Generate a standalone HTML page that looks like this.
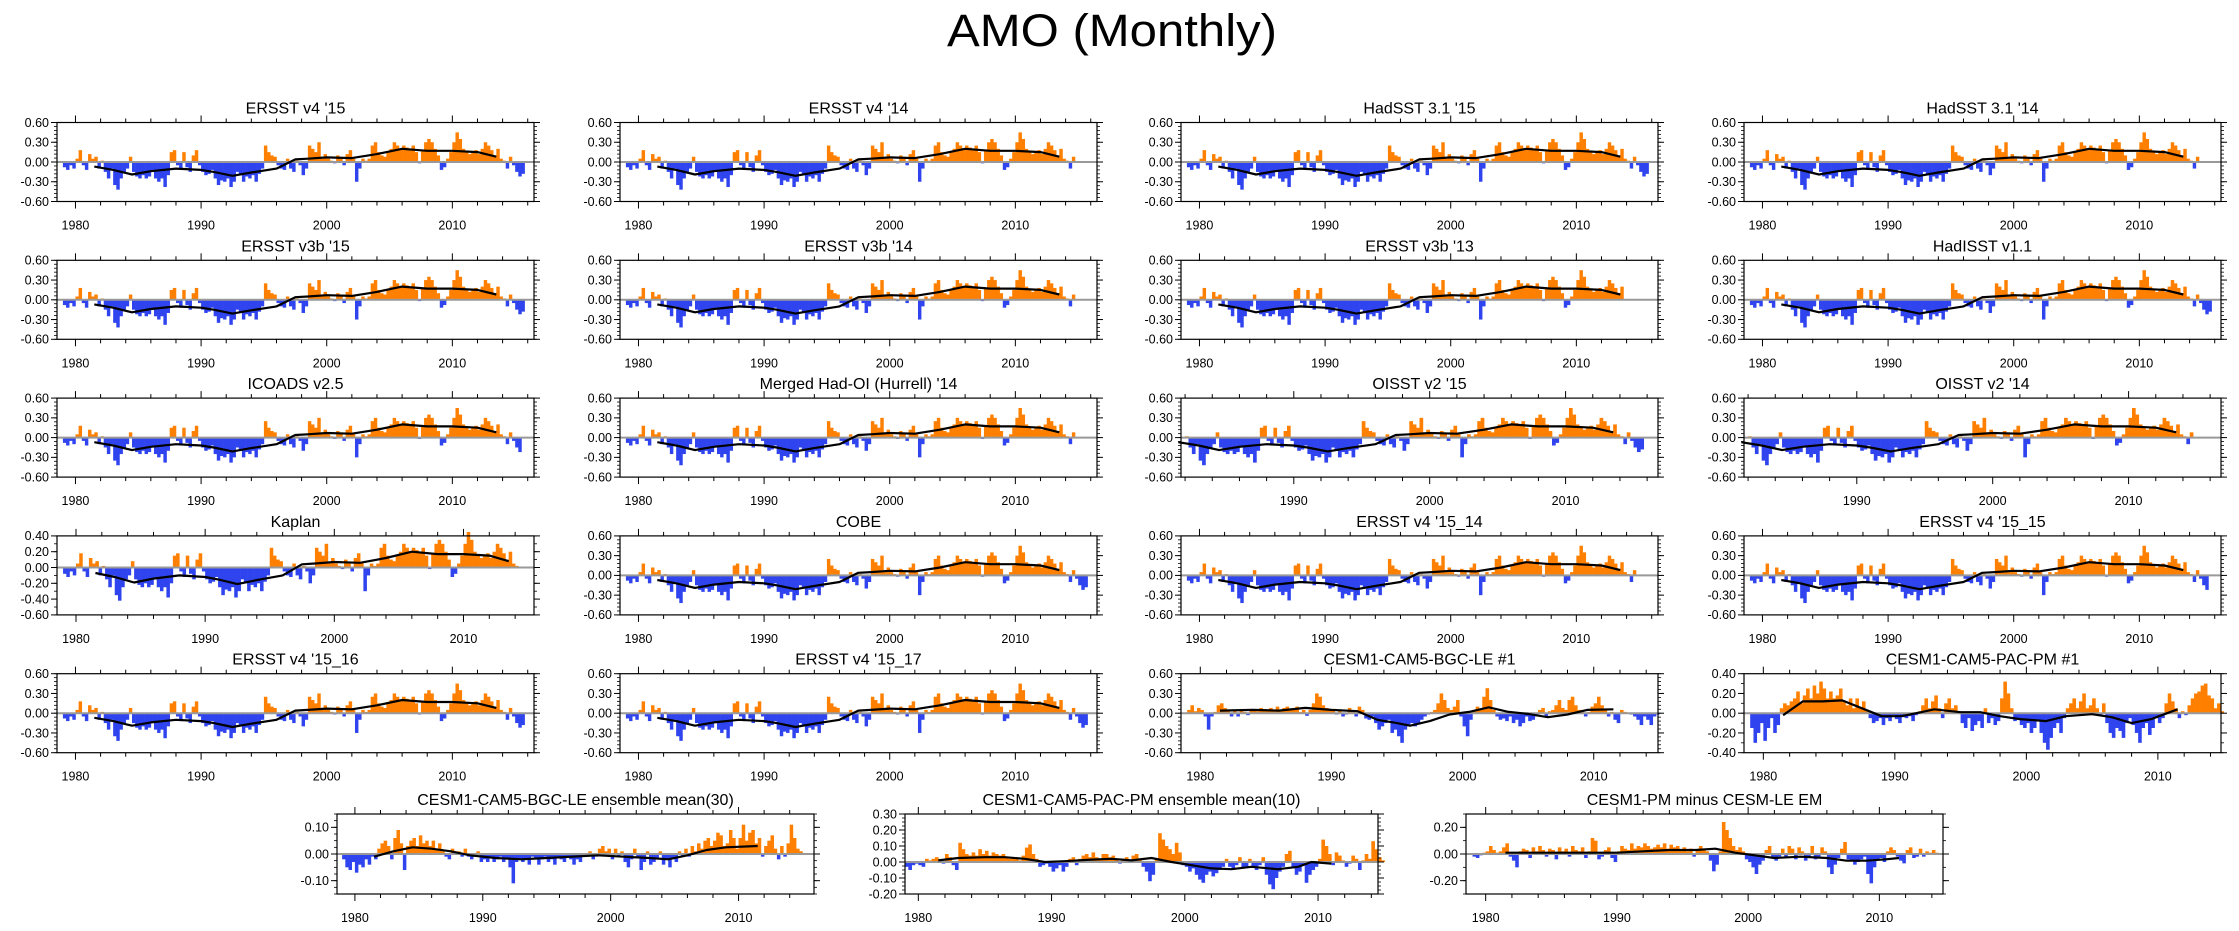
<!DOCTYPE html>
<html><head><meta charset="utf-8"><style>
html,body{margin:0;padding:0;background:#fff;}
svg{display:block;font-family:"Liberation Sans",Arial,sans-serif;}
</style></head><body>
<svg id="chart" width="2239" height="931" viewBox="0 0 2239 931" xmlns="http://www.w3.org/2000/svg">
<rect width="2239" height="931" fill="#fff"/>
<text x="1112" y="46" font-size="45" text-anchor="middle" textLength="330" lengthAdjust="spacingAndGlyphs">AMO (Monthly)</text>
</svg>
<script>
// ---- data (quarterly values, each drawn as 3 months), start year 1979 ----
const obsValues = [
-0.08,-0.12,-0.05,-0.10, 0.05,0.18,-0.05,-0.12, 0.12,0.05,0.08,-0.10, 0.02,-0.15,-0.25,-0.10,
-0.35,-0.42,-0.25,-0.15, -0.10,0.08,-0.15,-0.22, -0.25,-0.20,-0.25,-0.22, -0.15,-0.25,-0.30,-0.25,
-0.38,-0.20,0.15,0.18, -0.05,-0.12,0.15,-0.08, -0.15,0.10,0.18,-0.05, -0.15,-0.20,-0.18,-0.12,
-0.25,-0.35,-0.28,-0.30, -0.25,-0.38,-0.30,-0.15, -0.20,-0.30,-0.22,-0.25, -0.20,-0.30,-0.18,-0.10,
0.25,0.15,0.10,0.08, -0.05,-0.10,-0.12,0.05, -0.10,-0.15,0.02,-0.05, -0.20,-0.10,0.25,0.20,
0.15,0.30,0.05,0.12, 0.05,0.02,-0.02,0.10, 0.05,-0.05,0.12,0.18, 0.05,-0.30,-0.10,0.05,
0.02,0.05,0.25,0.30, 0.15,0.10,0.08,0.15, 0.20,0.30,0.25,0.20, 0.25,0.22,0.20,0.25,
0.15,-0.02,0.18,0.30, 0.35,0.30,0.20,0.10, -0.12,-0.08,0.05,0.15, 0.30,0.45,0.35,0.20,
0.15,0.12,0.15,0.18, 0.12,0.20,0.30,0.25, 0.18,0.10,0.20,0.05, 0.02,-0.10,0.08,-0.05,
-0.15,-0.22,-0.18,-0.08];
const obsSmoothYears = [1981.5,1983,1984.5,1986,1988,1990,1991,1992.5,1994,1996,1997.5,1998.5,2000,2002,2004,2006,2008,2010,2012,2013.5];
const obsSmoothValues = [-0.07,-0.12,-0.19,-0.14,-0.10,-0.12,-0.15,-0.21,-0.16,-0.10,0.04,0.05,0.07,0.06,0.12,0.20,0.17,0.17,0.15,0.08];

const bgcValues = [
0.05,0.12,0.03,0.08, 0.05,-0.05,-0.25,-0.05, 0.02,0.12,0.15,0.08, 0.03,-0.05,0.05,-0.05,
0.05,0.02,-0.03,0.05, 0.05,0.03,0.08,0.06, 0.05,0.08,0.05,0.10, 0.05,0.08,0.10,0.05,
0.06,0.10,0.02,0.05, -0.04,0.05,0.15,0.30, 0.25,0.12,0.08,0.05, 0.05,-0.02,0.03,-0.05,
-0.02,0.08,0.02,-0.05, 0.10,0.05,-0.08,-0.10, -0.05,-0.15,-0.25,-0.20, -0.15,-0.10,-0.30,-0.25,
-0.35,-0.45,-0.25,-0.20, -0.15,-0.20,-0.15,-0.10, -0.05,-0.02,0.02,0.05, 0.15,0.30,0.20,0.08,
0.05,0.10,0.20,-0.05, -0.20,-0.35,-0.10,0.05, 0.10,0.05,0.25,0.38, 0.20,0.05,-0.05,-0.10,
-0.08,-0.12,-0.05,-0.15, -0.10,-0.20,-0.15,-0.05, -0.12,-0.10,-0.05,0.05, 0.08,-0.05,0.03,0.05,
0.12,0.20,0.08,0.05, 0.20,0.25,0.12,0.05, 0.05,-0.05,0.02,0.10, 0.15,0.25,0.12,0.05,
-0.05,0.02,-0.10,-0.15, 0.05,0.02,0.00,-0.02, -0.05,-0.10,-0.18,-0.05, -0.10,-0.18,-0.05,-0.02];
const bgcSmoothYears = [1981.5,1984,1986,1988,1990,1992,1993.5,1995,1996,1997.5,1999,2000.5,2002,2003.5,2005,2006.5,2008,2009.5,2011.5];
const bgcSmoothValues = [0.04,0.05,0.04,0.08,0.05,0.03,-0.10,-0.15,-0.19,-0.12,-0.02,0.02,0.09,0.02,-0.01,-0.06,-0.02,0.05,0.06];

const pacValues = [
-0.15,-0.30,-0.20,-0.10, -0.28,-0.15,-0.05,-0.20, -0.12,0.05,0.10,0.08, 0.12,0.15,0.22,0.10,
0.18,0.25,0.15,0.28, 0.20,0.32,0.25,0.15, 0.22,0.15,0.18,0.25, 0.12,0.08,0.15,0.05,
0.15,0.05,0.12,0.02, -0.05,-0.10,-0.08,-0.05, -0.12,-0.05,-0.08,-0.02, -0.06,-0.10,-0.04,-0.05,
-0.03,-0.08,-0.02,0.02, 0.08,0.15,0.05,0.12, 0.18,0.05,-0.05,0.10, 0.15,0.05,0.08,0.02,
-0.10,-0.15,-0.05,-0.18, -0.12,-0.08,-0.15,0.05, -0.10,-0.05,-0.12,-0.08, 0.15,0.32,0.20,0.05,
-0.08,-0.05,-0.12,-0.15, -0.10,-0.20,-0.15,-0.08, -0.20,-0.30,-0.37,-0.25, -0.15,-0.10,-0.20,-0.05,
0.05,0.10,0.15,0.05, 0.12,0.20,0.05,0.08, 0.15,0.05,-0.02,0.10, -0.10,-0.20,-0.25,-0.15,
-0.18,-0.25,-0.10,-0.05, -0.12,-0.20,-0.30,-0.15, -0.10,-0.22,-0.15,-0.05, -0.10,-0.05,0.10,0.20,
0.12,0.05,-0.05,0.02, -0.02,0.08,0.15,0.20, 0.22,0.28,0.30,0.18, 0.15,0.05,0.10,0.02];
const pacSmoothYears = [1981.5,1983,1984.5,1986,1987.5,1989,1990.5,1992,1993,1995,1996.5,1998,1999.5,2001.5,2003,2005,2006.5,2008,2009.5,2011.5];
const pacSmoothValues = [-0.02,0.12,0.12,0.13,0.05,-0.03,-0.03,0.01,0.04,0.01,0.01,-0.03,-0.06,-0.08,-0.03,-0.01,-0.04,-0.10,-0.06,0.04];

const bgcEnsValues = [
-0.02,-0.05,-0.06,-0.03, -0.07,-0.04,-0.05,-0.02, -0.04,-0.01,-0.02,0.02, 0.04,0.05,0.03,-0.02,
0.06,0.09,0.04,-0.06, 0.03,0.05,0.06,0.03, 0.07,0.04,0.05,0.03, 0.05,0.02,0.04,0.01,
-0.01,-0.02,0.02,0.01, 0.01,-0.01,0.02,-0.01, -0.02,-0.01,0.01,-0.03, -0.02,-0.03,-0.01,-0.03,
-0.02,-0.01,-0.03,-0.02, -0.05,-0.11,-0.03,-0.02, -0.03,-0.02,-0.04,-0.01, -0.02,-0.04,-0.02,-0.01,
-0.03,-0.02,-0.04,-0.01, -0.02,-0.03,-0.01,-0.02, -0.04,-0.02,-0.03,-0.01, -0.01,0.01,-0.02,-0.01,
0.02,0.03,0.01,0.02, -0.02,0.02,-0.01,0.01, -0.03,-0.05,-0.02,0.02, -0.01,-0.06,-0.03,0.01,
-0.04,-0.03,-0.02,0.01, -0.04,-0.02,-0.05,-0.02, -0.03,0.01,-0.01,0.02, -0.01,0.03,0.01,0.04,
0.02,0.05,0.06,0.03, 0.05,0.08,0.07,0.03, 0.04,0.09,0.06,0.02, 0.06,0.11,0.05,0.08,
0.09,0.04,0.06,-0.01, 0.03,0.05,0.07,0.02, -0.02,0.03,-0.01,0.04, 0.11,0.06,0.02,0.01];
const bgcEnsSmoothYears = [1981.5,1983,1984.5,1986,1987.5,1989,1991,1993,1995,1997,1999,2001,2003,2004.5,2006,2007.5,2009,2011.5];
const bgcEnsSmoothValues = [-0.01,0.01,0.025,0.02,0.01,-0.005,-0.015,-0.02,-0.015,-0.01,-0.005,-0.01,-0.015,-0.02,-0.005,0.015,0.025,0.03];

const pacEnsValues = [
-0.03,-0.05,-0.02,-0.01, -0.02,-0.03,0.02,0.01, 0.02,0.03,0.01,-0.01, 0.05,0.03,-0.02,-0.05,
0.12,0.08,0.05,0.04, 0.06,0.04,0.08,0.05, 0.07,0.04,0.06,0.05, 0.04,0.05,0.03,0.02,
0.03,0.02,0.01,0.04, 0.09,0.11,0.05,0.02, -0.03,-0.02,-0.01,-0.03, -0.06,-0.04,-0.02,-0.06,
-0.03,0.02,0.03,-0.02, 0.02,0.04,0.05,0.03, 0.06,0.03,0.02,0.05, 0.05,0.03,0.04,0.02,
-0.01,0.02,0.03,0.01, 0.04,0.05,0.02,-0.03, -0.06,-0.12,-0.08,0.02, 0.18,0.14,0.10,0.08,
0.05,0.12,0.06,-0.02, -0.03,-0.06,-0.04,-0.08, -0.11,-0.13,-0.08,-0.06, -0.09,-0.07,-0.05,-0.03,
0.02,-0.03,-0.05,-0.02, 0.03,-0.04,-0.03,0.02, -0.03,-0.05,-0.02,0.03, -0.08,-0.14,-0.17,-0.10,
-0.06,-0.03,0.05,0.07, -0.04,-0.08,-0.06,-0.02, -0.13,-0.08,-0.05,-0.03, 0.02,0.14,0.10,0.05,
-0.02,0.06,0.04,0.01, -0.03,-0.01,0.04,0.02, -0.05,0.01,0.05,0.02, 0.13,0.08,0.03,0.01];
const pacEnsSmoothYears = [1981.5,1983,1985,1986.5,1988,1989.5,1991,1993,1994.5,1996,1997.5,1999,2000.5,2002,2003.5,2005,2007,2008.5,2009.5,2011];
const pacEnsSmoothValues = [0.01,0.025,0.03,0.03,0.02,0.0,0.005,0.015,0.02,0.01,0.025,0.0,-0.02,-0.04,-0.045,-0.03,-0.045,-0.03,0.0,-0.01];

const diffValues = [
-0.02,-0.03,-0.01,0.01, 0.02,0.06,0.03,0.01, 0.02,0.05,0.08,-0.02, -0.05,-0.10,0.02,0.04,
0.03,-0.03,0.05,0.02, 0.06,0.03,-0.02,0.04, 0.03,-0.04,0.05,0.02, 0.04,-0.02,0.06,0.03,
0.02,0.05,-0.03,0.02, 0.12,0.10,-0.04,-0.02, 0.03,0.05,-0.03,-0.06, 0.02,0.06,0.04,0.03,
0.08,0.04,0.06,0.05, 0.08,0.06,0.04,0.05, 0.07,0.05,0.08,0.04, 0.07,0.05,0.06,0.03,
0.05,0.02,0.04,-0.02, 0.03,0.06,0.04,0.02, -0.05,-0.13,-0.08,0.02, 0.24,0.18,0.12,0.06,
0.03,0.05,0.02,-0.04, -0.06,-0.10,-0.15,-0.08, -0.05,0.03,0.06,-0.03, -0.05,-0.02,0.04,-0.03,
0.06,0.04,-0.04,0.05, 0.02,-0.05,-0.03,0.06, -0.04,-0.02,0.05,0.02, -0.10,-0.15,-0.08,-0.03,
0.04,0.09,-0.04,-0.05, -0.08,-0.06,-0.04,-0.02, -0.15,-0.22,-0.10,-0.04, -0.03,-0.06,0.02,0.05,
0.03,-0.02,-0.05,-0.07, 0.03,0.05,-0.03,-0.02, 0.04,-0.02,0.02,0.01, 0.03,0.01,0.00,0.00];
const diffSmoothYears = [1981.5,1984,1987,1990,1992,1994,1996,1997.5,1999,2000.5,2002,2004,2006,2007.5,2009,2010.5,2011.5];
const diffSmoothValues = [0.01,0.01,0.01,0.01,0.02,0.03,0.03,0.04,0.01,-0.01,-0.03,-0.02,-0.03,-0.05,-0.05,-0.04,-0.03];

const panelTitles = ["ERSST v4 '15","ERSST v4 '14","HadSST 3.1 '15","HadSST 3.1 '14",
"ERSST v3b '15","ERSST v3b '14","ERSST v3b '13","HadISST v1.1",
"ICOADS v2.5","Merged Had-OI (Hurrell) '14","OISST v2 '15","OISST v2 '14",
"Kaplan","COBE","ERSST v4 '15_14","ERSST v4 '15_15",
"ERSST v4 '15_16","ERSST v4 '15_17","CESM1-CAM5-BGC-LE #1","CESM1-CAM5-PAC-PM #1",
"CESM1-CAM5-BGC-LE ensemble mean(30)","CESM1-CAM5-PAC-PM ensemble mean(10)","CESM1-PM minus CESM-LE EM"];
const obsYTicks = [0.6,0.3,0,-0.3,-0.6];
const kaplanYTicks = [0.4,0.2,0,-0.2,-0.4,-0.6];
const pacYTicks = [0.4,0.2,0,-0.2,-0.4];
const bgcEnsYTicks = [0.1,0,-0.1];
const pacEnsYTicks = [0.3,0.2,0.1,0,-0.1,-0.2];
const diffYTicks = [0.2,0,-0.2];
const decadeLabels = [1980,1990,2000,2010];
// end year of observed data per obs panel (last data time)
const obsEnd = [2015.75,2014.75,2015.75,2014.75, 2015.75,2014.75,2013.75,2015.75, 2015.5,2014.75,2015.75,2014.75, 2014.25,2015.75,2014.75,2015.5, 2015.75,2015.75];

const svg = document.getElementById('chart');
const NS = 'http://www.w3.org/2000/svg';
function mk(tag, attrs, parent){ const e=document.createElementNS(NS,tag); for(const k in attrs) e.setAttribute(k,attrs[k]); (parent||svg).appendChild(e); return e; }

const colLeft=[57,620,1181,1744], W=477;
const rowTop=[122.5,260.3,398.1,535.9,673.7], H=79;
const botLeft=[337,905,1466], botTop=814, BH=80;

const panels=[];
for(let i=0;i<20;i++){
  const r=Math.floor(i/4), c=i%4;
  const p={title:panelTitles[i], x:colLeft[c], y:rowTop[r], w:W, h:H, xmin:1978.53, xmax:2016.5, ymin:-0.6, ymax:0.6, yticks:obsYTicks, yminor:0.06,
    vals:obsValues, start:1979, end:obsEnd[i]||2015.75, sy:obsSmoothYears, sv:obsSmoothValues, fmt:2};
  if(i===10||i===11){ p.xmin=1981.7; p.xmax=2016.8; p.start=1982; p.vals=obsValues.slice(12); }
  if(i===12){ p.xmax=2015.46; p.ymin=-0.6; p.ymax=0.4; p.yticks=kaplanYTicks; p.yminor=0.1; }
  if(i===18){ p.xmax=2014.9; p.vals=bgcValues; p.end=2015; p.sy=bgcSmoothYears; p.sv=bgcSmoothValues; }
  if(i===19){ p.xmax=2014.8; p.vals=pacValues; p.end=2015; p.ymin=-0.4; p.ymax=0.4; p.yticks=pacYTicks; p.yminor=0.1; p.sy=pacSmoothYears; p.sv=pacSmoothValues; }
  panels.push(p);
}
panels.push({title:panelTitles[20], x:botLeft[0], y:botTop, w:W, h:BH, xmin:1978.6, xmax:2015.9, ymin:-0.15, ymax:0.15, yticks:bgcEnsYTicks, yminor:0.025, vals:bgcEnsValues, start:1979, end:2015, sy:bgcEnsSmoothYears, sv:bgcEnsSmoothValues});
panels.push({title:panelTitles[21], x:botLeft[1], y:botTop, w:W-4, h:BH, xmin:1979.0, xmax:2014.5, ymin:-0.2, ymax:0.3, yticks:pacEnsYTicks, yminor:0.025, vals:pacEnsValues, start:1979, end:2015, sy:pacEnsSmoothYears, sv:pacEnsSmoothValues});
panels.push({title:panelTitles[22], x:botLeft[2], y:botTop, w:W, h:BH, xmin:1978.5, xmax:2014.85, ymin:-0.3, ymax:0.3, yticks:diffYTicks, yminor:0.1, vals:diffValues, start:1979, end:2015, sy:diffSmoothYears, sv:diffSmoothValues});

panels.forEach((p,idx)=>{
  const g=mk('g',{});
  
  
  const X=t=>p.x+(t-p.xmin)/(p.xmax-p.xmin)*p.w;
  const Y=v=>p.y+(p.ymax-v)/(p.ymax-p.ymin)*p.h;
  const y0=Y(0);
  // title
  const tt=mk('text',{x:p.x+p.w/2,y:p.y-9,'font-size':16,'text-anchor':'middle'},g);
  tt.textContent=p.title;
  
  
  // bars
  const bars=mk('g',{},g);
  
  
  p.vals.forEach((v,k)=>{
    const t0=p.start+k*0.25;
    if(t0>=p.end) return;
    const yv=Y(v);
    const b=mk('rect',{x:X(t0).toFixed(2),y:Math.min(yv,y0).toFixed(2),width:(X(t0+0.25)-X(t0)+0.3).toFixed(2),height:Math.abs(yv-y0).toFixed(2),fill:v>=0?'#ff8000':'#2f44ef'},bars);
    
    
  });
  // zero line
  const zl=mk('line',{x1:p.x,x2:p.x+p.w,y1:y0,y2:y0,stroke:'#999',"stroke-width":2},g);
  
  
  // smooth line
  const pts=p.sy.map((t,k)=>X(t).toFixed(1)+','+Y(p.sv[k]).toFixed(1)).join(' ');
  const sl=mk('polyline',{points:pts,fill:'none',stroke:'#000','stroke-width':2.2,'stroke-linejoin':'round'},g);
  
  
  // frame
  const fr=mk('rect',{x:p.x,y:p.y,width:p.w,height:p.h,fill:'none',stroke:'#000','stroke-width':1.2},g);
  
  
  // x ticks
  for(let yr=Math.ceil(p.xmin/2)*2; yr<=p.xmax; yr+=2){
    const xx=X(yr), major=yr%10===0, L=major?7:4;
    mk('line',{x1:xx,x2:xx,y1:p.y-L,y2:p.y,stroke:'#000','stroke-width':1},g);
    mk('line',{x1:xx,x2:xx,y1:p.y+p.h,y2:p.y+p.h+L,stroke:'#000','stroke-width':1},g);
  }
  decadeLabels.forEach(yr=>{
    if(yr<p.xmin||yr>p.xmax) return;
    const tl=mk('text',{x:X(yr),y:p.y+p.h+28,'font-size':12.5,'text-anchor':'middle'},g);
    tl.textContent=String(yr);
    
    
  });
  // y ticks
  for(let v=p.ymin; v<=p.ymax+1e-6; v+=p.yminor){
    const yy=Y(v);
    mk('line',{x1:p.x-3,x2:p.x,y1:yy,y2:yy,stroke:'#000','stroke-width':0.8},g);
    mk('line',{x1:p.x+p.w,x2:p.x+p.w+3,y1:yy,y2:yy,stroke:'#000','stroke-width':0.8},g);
  }
  p.yticks.forEach(v=>{
    const yy=Y(v);
    mk('line',{x1:p.x-6,x2:p.x,y1:yy,y2:yy,stroke:'#000','stroke-width':1},g);
    mk('line',{x1:p.x+p.w,x2:p.x+p.w+6,y1:yy,y2:yy,stroke:'#000','stroke-width':1},g);
    const yl=mk('text',{x:p.x-8,y:yy+4.3,'font-size':12.5,'text-anchor':'end'},g);
    yl.textContent=(Math.abs(v)<1e-9?0:v).toFixed(2);
    
    
  });
});
</script>
</body></html>
